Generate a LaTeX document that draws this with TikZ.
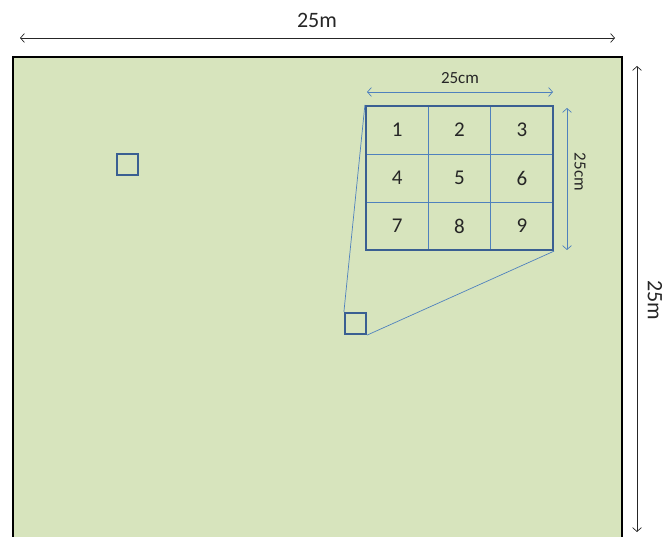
\documentclass[tikz,border=0pt]{standalone}
\usepackage{fontspec}
\setmainfont{Carlito}
\usetikzlibrary{arrows.meta}
\definecolor{fieldgreen}{HTML}{D7E4BD}
\definecolor{darkblue}{HTML}{3A5F92}
\definecolor{lightblue}{HTML}{4F81BD}
\definecolor{txt}{HTML}{262626}
\tikzset{
  plot/.style={draw=darkblue, line width=2.2pt, minimum width=21pt, minimum height=21pt, inner sep=0pt},
  cell/.style={draw=lightblue, line width=0.8pt, minimum width=62.33pt, minimum height=48pt, inner sep=0pt, font=\fontsize{21}{24}\selectfont, text=txt},
  dimblack/.style={draw=black!85, line width=0.7pt, {Straight Barb[length=4pt,width=9pt]}-{Straight Barb[length=4pt,width=9pt]}},
  dimblue/.style={draw=lightblue, line width=0.7pt, {Straight Barb[length=4pt,width=9pt]}-{Straight Barb[length=4pt,width=9pt]}},
  zoomline/.style={draw=lightblue, line width=0.7pt},
  biglabel/.style={font=\fontsize{22}{25}\selectfont, text=txt, inner sep=0pt},
  smalllabel/.style={font=\fontsize{17}{19}\selectfont, text=txt, inner sep=0pt}
}
\begin{document}
\begin{tikzpicture}[x=1pt,y=-1pt]
\useasboundingbox (0,0) rectangle (664,537);
\clip (0,0) rectangle (664,537);
% field
\draw[fill=fieldgreen, draw=black, line width=2.4pt] (13,57) rectangle (622,560);
% outer dimension arrows
\coordinate (tl) at (20,38);
\coordinate (tr) at (615,38);
\draw[dimblack] (tl) -- (tr);
\node[biglabel] (toplab) at (317,20) {25m};
\coordinate (rt) at (637,66);
\coordinate (rb) at (637,532);
\draw[dimblack] (rt) -- (rb);
\node[biglabel, rotate=-90] (rightlab) at (655,300) {25m};
% small plots
\node[plot] (plotA) at (127.5,164.5) {};
\node[plot] (plotB) at (355.5,323.5) {};
% grid cells
\foreach \r in {0,1,2}{
  \foreach \c in {0,1,2}{
    \pgfmathtruncatemacro{\n}{\r*3+\c+1}
    \node[cell] (c\n) at ({366+31.17+\c*62.33},{106+24+\r*48}) {\n};
  }
}
\node[draw=darkblue, line width=2.2pt, minimum width=187pt, minimum height=144pt, inner sep=0pt] (grid) at (459.5,178) {};
% zoom lines
\draw[zoomline] (plotB.north west) -- (grid.north west);
\draw[zoomline] (plotB.south east) -- (grid.south east);
% inner dimension arrows
\coordinate (gl) at (367,92);
\coordinate (gr) at (553,92);
\draw[dimblue] (gl) -- (gr);
\node[smalllabel] (gtoplab) at (460,78) {25cm};
\coordinate (gt) at (567,108);
\coordinate (gb) at (567,250);
\draw[dimblue] (gt) -- (gb);
\node[smalllabel, rotate=-90] (grightlab) at (580,172) {25cm};
\end{tikzpicture}
\end{document}
